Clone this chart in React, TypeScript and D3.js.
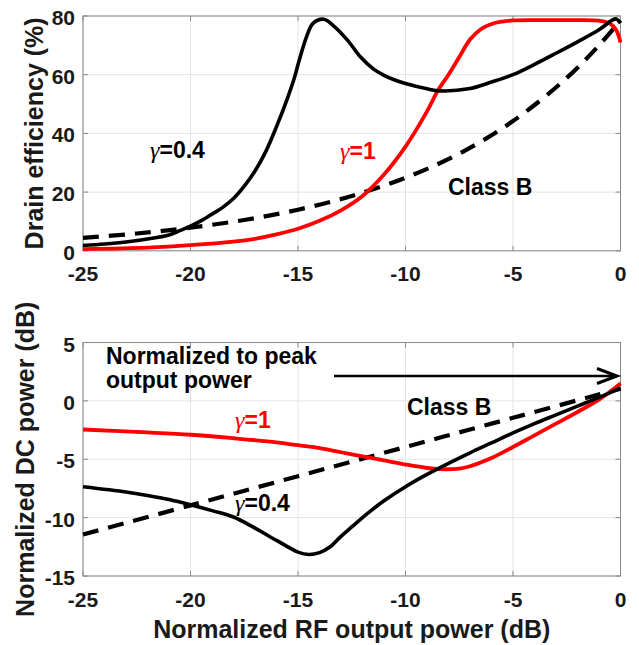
import React from "react";
import * as d3 from "d3";

// Shared x axis: normalized RF output power (dB)
const xTicks = [-25, -20, -15, -10, -5, 0];

// Top panel: drain efficiency (%)
const effTicks = [0, 20, 40, 60, 80];

const effG04P = [-25, -24, -23, -22, -21, -20.5, -20, -19.5, -19, -18.5, -18, -17.5, -17, -16.5, -16, -15.5, -15.2, -14.9, -14.6, -14.3, -13.8, -13.4, -12.7, -12.1, -11.5, -11, -10.5, -10, -9, -8.4, -7, -6, -5, -4, -3, -2, -1, -0.4, -0.2, 0];
const effG04 = [1.8, 2.3, 3.0, 4.0, 5.4, 6.85, 8.4, 10.3, 12.5, 14.8, 17.8, 22, 27.2, 33.8, 42.3, 51.8, 58.2, 66, 73, 77.5, 78.9, 77, 71.8, 66.1, 62, 59.8, 58.2, 57, 55.2, 54.5, 55.3, 57.5, 60, 63.5, 67.3, 71.2, 75.3, 78.5, 79, 77.5];

const effG1P = [-25, -22, -20, -18, -17, -16, -15, -14, -13, -12, -11, -10, -9, -8.5, -8, -7.5, -7, -6.5, -6, -5.5, -5, -4, -3, -2, -1, -0.5, -0.2, 0];
const effG1 = [0.6, 1.1, 1.9, 3.1, 4.1, 5.6, 7.5, 10.2, 13.8, 18.7, 26, 35.5, 47.5, 54.5, 60, 66, 72, 75.5, 77.3, 78.1, 78.5, 78.6, 78.6, 78.6, 78.4, 77.5, 75.2, 71];

const effBP = [-25, -22.5, -20, -17.5, -15, -12.5, -10, -7.5, -5, -2.5, -1, 0];
const effB = [4.4, 5.9, 7.9, 10.5, 14.0, 18.7, 24.9, 33.1, 44.2, 58.9, 70.0, 78.5];

// Bottom panel: normalized DC power (dB)
const dcTicks = [-15, -10, -5, 0, 5];

const dcG04P = [-25, -23, -22, -21, -20, -19, -18, -17, -16, -15, -14.5, -14, -13.5, -13, -12.5, -12, -11.5, -11, -10, -9, -8, -7, -6, -5, -4, -3, -2, -1, 0];
const dcG04 = [-7.35, -7.8, -8.1, -8.45, -8.9, -9.4, -9.95, -10.9, -11.95, -12.95, -13.16, -13.0, -12.5, -11.6, -10.8, -10.0, -9.25, -8.55, -7.35, -6.3, -5.35, -4.45, -3.6, -2.75, -1.95, -1.2, -0.45, 0.3, 1.1];

const dcG1P = [-25, -22, -20, -18, -16, -15, -14, -13, -12, -11, -10, -9, -8.4, -7.5, -7, -6, -5, -4, -3, -2, -1, 0];
const dcG1 = [-2.45, -2.7, -2.9, -3.2, -3.55, -3.8, -4.05, -4.4, -4.75, -5.1, -5.45, -5.75, -5.85, -5.8, -5.6, -4.9, -3.95, -2.95, -1.95, -0.95, 0.1, 1.5];

const dcBP = [-25, -20, -15, -10, -5, 0];
const dcB = [-11.45, -8.95, -6.45, -3.95, -1.45, 1.05];

const W = 639;
const H = 645;
const LEFT = 83;
const RIGHT = 620.5;
const FONT = "'Liberation Sans', Arial, Helvetica, sans-serif";
const TXT = "#1a1a1a";
const RED = "#ff0000";

type Series = { p: number[]; v: number[]; color: string; dashed?: boolean; width: number };

function Panel({
  top,
  bottom,
  yDomain,
  yTicks,
  series,
  yLabel,
  yLabelX,
  children,
}: {
  top: number;
  bottom: number;
  yDomain: [number, number];
  yTicks: number[];
  series: Series[];
  yLabel: string;
  yLabelX: number;
  children?: React.ReactNode;
}) {
  const x = d3.scaleLinear().domain([-25, 0]).range([LEFT, RIGHT]);
  const y = d3.scaleLinear().domain(yDomain).range([bottom, top]);
  const line = (s: Series) =>
    d3
      .line<number>()
      .x((_, i) => x(s.p[i]))
      .y((d) => y(d))
      .curve(d3.curveCatmullRom.alpha(0.5))(s.v) || "";
  const tickLen = 5;
  return (
    <g>
      {/* grid */}
      {xTicks.map((t) => (
        <line key={"gx" + t} x1={x(t)} x2={x(t)} y1={top} y2={bottom} stroke="#e3e3e3" strokeWidth={1} />
      ))}
      {yTicks.map((t) => (
        <line key={"gy" + t} x1={LEFT} x2={RIGHT} y1={y(t)} y2={y(t)} stroke="#e3e3e3" strokeWidth={1} />
      ))}
      {/* inward ticks on all four sides */}
      {xTicks.map((t) => (
        <g key={"tx" + t} stroke="#8a8a8a" strokeWidth={1}>
          <line x1={x(t)} x2={x(t)} y1={bottom} y2={bottom - tickLen} />
          <line x1={x(t)} x2={x(t)} y1={top} y2={top + tickLen} />
        </g>
      ))}
      {yTicks.map((t) => (
        <g key={"ty" + t} stroke="#8a8a8a" strokeWidth={1}>
          <line x1={LEFT} x2={LEFT + tickLen} y1={y(t)} y2={y(t)} />
          <line x1={RIGHT} x2={RIGHT - tickLen} y1={y(t)} y2={y(t)} />
        </g>
      ))}
      <rect x={LEFT} y={top} width={RIGHT - LEFT} height={bottom - top} fill="none" stroke="#8a8a8a" strokeWidth={1} />
      {/* curves */}
      {series.map((s, i) => (
        <path
          key={"s" + i}
          d={line(s)}
          fill="none"
          stroke={s.color}
          strokeWidth={s.width}
          strokeDasharray={s.dashed ? "16 10" : undefined}
          strokeLinejoin="round"
        />
      ))}
      {/* tick labels */}
      {xTicks.map((t) => (
        <text key={"lx" + t} x={x(t)} y={bottom + 30.5} textAnchor="middle" fontFamily={FONT} fontWeight="bold" fontSize={21} fill={TXT}>
          {t}
        </text>
      ))}
      {yTicks.map((t) => (
        <text key={"ly" + t} x={75} y={y(t) + 9} textAnchor="end" fontFamily={FONT} fontWeight="bold" fontSize={21} fill={TXT}>
          {t}
        </text>
      ))}
      <text
        transform={`translate(${yLabelX},${(top + bottom) / 2}) rotate(-90)`}
        textAnchor="middle"
        fontFamily={FONT}
        fontWeight="bold"
        fontSize={25}
        fill={TXT}
      >
        {yLabel}
      </text>
      {children}
    </g>
  );
}

function Gamma({ x, y, value, color }: { x: number; y: number; value: string; color: string }) {
  return (
    <text x={x} y={y} fontFamily={FONT} fontWeight="bold" fontSize={23} fill={color}>
      <tspan fontFamily="'Liberation Serif', 'Times New Roman', serif" fontWeight="normal" fontStyle="italic" fontSize={24}>
        γ
      </tspan>
      {"=" + value}
    </text>
  );
}

export default function App() {
  const effSeries: Series[] = [
    { p: effBP, v: effB, color: "#000", dashed: true, width: 4.2 },
    { p: effG1P, v: effG1, color: RED, width: 3.8 },
    { p: effG04P, v: effG04, color: "#000", width: 3.6 },
  ];
  const dcSeries: Series[] = [
    { p: dcBP, v: dcB, color: "#000", dashed: true, width: 4.2 },
    { p: dcG1P, v: dcG1, color: RED, width: 3.8 },
    { p: dcG04P, v: dcG04, color: "#000", width: 3.6 },
  ];
  return (
    <svg width={W} height={H} style={{ position: "absolute", left: 0, top: 0, background: "#fff" }}>
      <rect width={W} height={H} fill="#fff" />
      <Panel top={16} bottom={250.8} yDomain={[0, 80]} yTicks={effTicks} series={effSeries} yLabel="Drain efficiency (%)" yLabelX={43}>
        <Gamma x={150} y={158} value="0.4" color="#000" />
        <Gamma x={340} y={159} value="1" color={RED} />
        <text x={448} y={195} fontFamily={FONT} fontWeight="bold" fontSize={23} fill="#000">
          Class B
        </text>
      </Panel>
      <Panel top={342.5} bottom={576} yDomain={[-15, 5]} yTicks={dcTicks} series={dcSeries} yLabel="Normalized DC power (dB)" yLabelX={34}>
        <text x={106} y={364} fontFamily={FONT} fontWeight="bold" fontSize={23} fill="#000">
          Normalized to peak
        </text>
        <text x={106} y={388} fontFamily={FONT} fontWeight="bold" fontSize={23} fill="#000">
          output power
        </text>
        <line x1={334} x2={615} y1={376} y2={376} stroke="#000" strokeWidth={2.5} />
        <path d="M597,368.5 L617,376 L597,383.5" fill="none" stroke="#000" strokeWidth={3} strokeLinejoin="miter" />
        <Gamma x={235} y={428} value="1" color={RED} />
        <Gamma x={235} y={511} value="0.4" color="#000" />
        <text x={407} y={415} fontFamily={FONT} fontWeight="bold" fontSize={23} fill="#000">
          Class B
        </text>
      </Panel>
      <text x={(LEFT + RIGHT) / 2} y={638} textAnchor="middle" fontFamily={FONT} fontWeight="bold" fontSize={25} fill={TXT}>
        Normalized RF output power (dB)
      </text>
    </svg>
  );
}
